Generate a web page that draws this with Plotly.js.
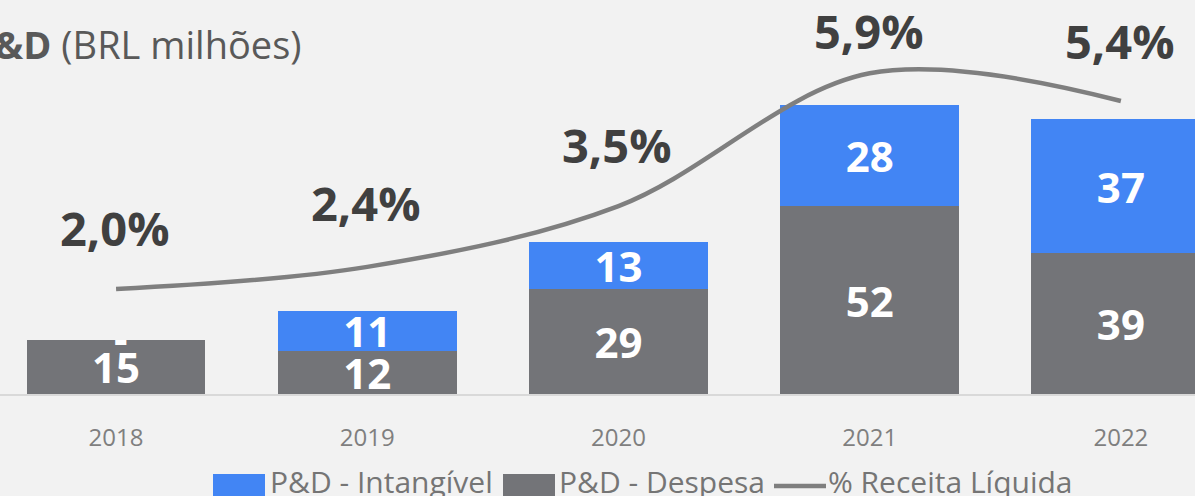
<!DOCTYPE html>
<html>
<head>
<meta charset="utf-8">
<script src="https://cdn.plot.ly/plotly-3.0.1.min.js"></script>
<style>
  html, body { margin: 0; padding: 0; background: #f2f2f2; }
  #chart { width: 1195px; height: 496px; }
</style>
</head>
<body>
<div id="chart"></div>
<script>
// ---- data ----
var years = ['2018', '2019', '2020', '2021', '2022'];
var despesa = [15, 12, 29, 52, 39];          // P&D - Despesa (BRL milhões)
var intangivel = [0, 11, 13, 28, 37];        // P&D - Intangível (BRL milhões)
var pctReceita = [2.0, 2.4, 3.5, 5.9, 5.4];  // % Receita Líquida

var legendNames = ['P&D - Intangível', 'P&D - Despesa', '% Receita Líquida'];
var titleBold = 'P&D';
var titleRest = ' (BRL milhões)';

// ---- layout helpers (pixel -> paper) ----
var W = 1195, H = 496, MB = 102, PH = H - MB;
function px(x) { return x / W; }
function py(y) { return (PH - y) / PH; }

var FONT = 'Open Sans, Noto Sans, sans-serif';
var BLUE = '#4285f4', GRAY = '#737478', LINE = '#7f7f7f';

function fmtPct(v) { return v.toFixed(1).replace('.', ',') + '%'; }

var traces = [
  {
    type: 'bar', name: legendNames[1], x: years, y: despesa,
    marker: { color: GRAY },
    text: despesa.map(function (v) { return v > 0 ? String(v) : ''; }),
    textposition: 'inside', insidetextanchor: 'middle', textangle: 0,
    constraintext: 'none',
    textfont: { family: FONT, size: 42, color: '#ffffff', weight: 'bold' },
    hoverinfo: 'skip', showlegend: false
  },
  {
    type: 'bar', name: legendNames[0], x: years, y: intangivel,
    marker: { color: BLUE },
    text: intangivel.map(function (v) { return v > 0 ? String(v) : ''; }),
    textposition: 'inside', insidetextanchor: 'middle', textangle: 0,
    constraintext: 'none',
    textfont: { family: FONT, size: 42, color: '#ffffff', weight: 'bold' },
    hoverinfo: 'skip', showlegend: false
  },
  {
    type: 'scatter', mode: 'lines', name: legendNames[2], x: years, y: pctReceita,
    yaxis: 'y2',
    line: { color: LINE, width: 4.5, shape: 'spline', smoothing: 1 },
    hoverinfo: 'skip', showlegend: false
  }
];

var annotations = [];
// percentage labels (x given as category index)
var pctShift = [61, 64, 61, 42, 60];
years.forEach(function (yr, i) {
  annotations.push({
    x: i, y: pctReceita[i], xref: 'x', yref: 'y2',
    text: fmtPct(pctReceita[i]), showarrow: false,
    yanchor: 'middle', xanchor: 'center', yshift: pctShift[i], xshift: -1,
    font: { family: FONT, size: 47, color: '#404040', weight: 'bold' }
  });
  if (intangivel[i] === 0) {
    annotations.push({
      x: i, y: despesa[i] + intangivel[i], xref: 'x', yref: 'y',
      text: '-', showarrow: false, yanchor: 'middle', xanchor: 'center', xshift: 5, yshift: 2,
      font: { family: FONT, size: 42, color: '#ffffff', weight: 'bold' }
    });
  }
});
// title (partially cut off at the left edge, like the reference)
annotations.push({
  xref: 'paper', yref: 'paper', x: px(303), y: py(44),
  xanchor: 'right', yanchor: 'middle', showarrow: false,
  text: '<b>' + titleBold + '</b>' + titleRest,
  font: { family: FONT, size: 38, color: '#595959' }
});
// custom legend texts
var legTextX = [268, 557, 826];
legTextX.forEach(function (x, i) {
  annotations.push({
    xref: 'paper', yref: 'paper', x: px(x), y: py(481),
    xanchor: 'left', yanchor: 'middle', showarrow: false,
    text: legendNames[i],
    font: { family: FONT, size: 30, color: '#757575' }
  });
});

var shapes = [
  { type: 'rect', xref: 'paper', yref: 'paper', x0: px(213), x1: px(265), y0: py(474), y1: py(500),
    fillcolor: BLUE, line: { width: 0 } },
  { type: 'rect', xref: 'paper', yref: 'paper', x0: px(503), x1: px(555), y0: py(474), y1: py(500),
    fillcolor: GRAY, line: { width: 0 } },
  { type: 'line', xref: 'paper', yref: 'paper', x0: px(774), x1: px(826), y0: py(486), y1: py(486),
    line: { color: LINE, width: 4.5 } }
];

var layout = {
  width: W, height: H,
  margin: { l: 0, r: 0, t: 0, b: MB, pad: 0 },
  paper_bgcolor: '#f2f2f2', plot_bgcolor: '#f2f2f2',
  barmode: 'stack', bargap: 0.288,
  showlegend: false,
  font: { family: FONT },
  xaxis: {
    type: 'category', range: [-0.462, 4.295], automargin: false,
    showline: true, linecolor: '#d9d9d9', linewidth: 2,
    showgrid: false, zeroline: false, ticks: '',
    ticklabelstandoff: 21,
    tickfont: { family: FONT, size: 24, color: '#7f7f7f' },
    fixedrange: true
  },
  yaxis: {
    range: [0, 109], visible: false, showgrid: false, zeroline: false, fixedrange: true
  },
  yaxis2: {
    range: [0.101, 7.226], overlaying: 'y', side: 'right', visible: false,
    showgrid: false, zeroline: false, fixedrange: true
  },
  annotations: annotations,
  shapes: shapes
};

Plotly.newPlot('chart', traces, layout, { displayModeBar: false, staticPlot: true });
</script>
</body>
</html>
